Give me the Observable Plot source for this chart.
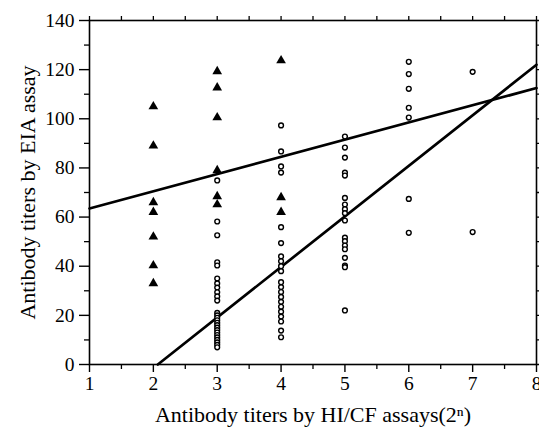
<!DOCTYPE html>
<html><head><meta charset="utf-8">
<script src="https://cdn.jsdelivr.net/npm/d3@7"></script>
<script src="https://cdn.jsdelivr.net/npm/@observablehq/plot@0.6"></script>
<style>body{margin:0;background:#fff}</style>
</head><body><div id="chart"></div>
<script>
const circleHI = [3,3,3,3,3,3,3,3,3,3,3,3,3,3,3,3,3,3,3,3,3,3,3,3,3,3,
  4,4,4,4,4,4,4,4,4,4,4,4,4,4,4,4,4,4,4,4,4,
  5,5,5,5,5,5,5,5,5,5,5,5,5,5,5,5,5,5,
  6,6,6,6,6,6,6, 7,7];
const circleEIA = [74.9,58.2,52.6,41.6,40.3,35,33,31.3,29.4,27.7,26,21,20,19,18,17,16,15,14,13,12,11,10,9,8,7,
  97.3,86.7,80.6,78.1,55.9,49.4,44,42,40,38,33.5,31.5,29.5,27.5,25.5,23.5,21.5,19.5,17.5,13.8,11.1,
  92.8,88.3,84.2,78.1,76.9,67.8,65.1,63.2,61.6,58.6,51.6,50.2,48.4,46.9,43.4,40.3,39.6,22,
  123.2,118.2,112.2,104.5,100.5,67.4,53.6, 119.1,53.9];
const triHI = [2,2,2,2,2,2,2, 3,3,3,3,3,3, 4,4,4];
const triEIA = [105,89,66,62,52,40.3,33, 119.3,112.7,100.5,79,68.4,65.1, 123.7,68,62];
const lineA_HI = [1, 8], lineA_EIA = [63.5, 112.5];
const lineB_HI = [2.07, 8], lineB_EIA = [0, 122];
const xTicks = [1,2,3,4,5,6,7,8];
const xMinor = [1.5,2.5,3.5,4.5,5.5,6.5,7.5];
const yTicks = [0,20,40,60,80,100,120,140];
const yMinor = [10,30,50,70,90,110,130];

const circles = circleHI.map((x,i)=>({x, y: circleEIA[i]}));
const tris = triHI.map((x,i)=>({x, y: triEIA[i]}));
const lineA = lineA_HI.map((x,i)=>({x, y: lineA_EIA[i]}));
const lineB = lineB_HI.map((x,i)=>({x, y: lineB_EIA[i]}));
const font = "Liberation Serif";
const blank = () => "";

const chart = Plot.plot({
  width: 539, height: 429,
  marginLeft: 89, marginRight: 3, marginTop: 20, marginBottom: 65,
  style: {fontFamily: font, fontSize: "19px", color: "#000", background: "#fff"},
  x: {domain: [1, 8]},
  y: {domain: [0, 140]},
  marks: [
    Plot.frame({stroke: "#000", strokeWidth: 1.6}),
    Plot.axisX({ticks: xTicks, tickSize: 8, tickPadding: 4, tickFormat: d3.format("d"), fontSize: 19.5, strokeWidth: 1.4,
      label: null}),
    Plot.axisX({ticks: [], label: "Antibody titers by HI/CF assays(2ⁿ)", labelAnchor: "center", labelArrow: "none",
      labelOffset: 57, fontSize: 22}),
    Plot.axisX({ticks: xMinor, tickSize: 5, tickFormat: blank, label: null, strokeWidth: 1.3}),
    Plot.axisX({anchor: "top", ticks: xTicks.concat(xMinor), tickSize: 5, tickFormat: blank, label: null, strokeWidth: 1.3}),
    Plot.axisY({ticks: yTicks, tickSize: 10, tickPadding: 5, fontSize: 19.5, strokeWidth: 1.4, label: null}),
    Plot.axisY({ticks: [], label: "Antibody titers by EIA assay", labelAnchor: "center", labelArrow: "none",
      labelOffset: 70, fontSize: 22}),
    Plot.axisY({ticks: yMinor, tickSize: 5, tickFormat: blank, label: null, strokeWidth: 1.3}),
    Plot.axisY({anchor: "right", ticks: yTicks.concat(yMinor), tickSize: 5, tickFormat: blank, label: null, strokeWidth: 1.3}),
    Plot.line(lineA, {x: "x", y: "y", stroke: "#000", strokeWidth: 2.7}),
    Plot.line(lineB, {x: "x", y: "y", stroke: "#000", strokeWidth: 2.7}),
    Plot.dot(circles, {x: "x", y: "y", r: 2.4, stroke: "#000", strokeWidth: 1.4, fill: "#fff"}),
    Plot.dot(tris, {x: "x", y: "y", symbol: "triangle", r: 3.6, fill: "#000", stroke: "none"})
  ]
});
document.getElementById("chart").appendChild(chart);
</script>
</body></html>
